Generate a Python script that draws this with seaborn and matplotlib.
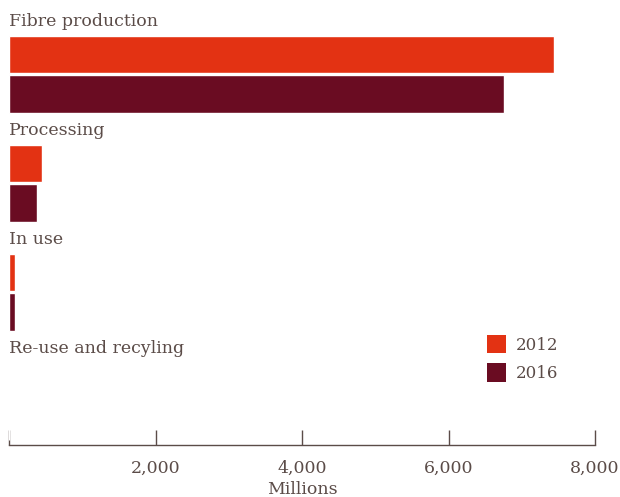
import matplotlib
matplotlib.use("Agg")
import matplotlib.pyplot as plt
import pandas as pd
import seaborn as sns
from matplotlib.patches import Patch

stages = ['Fibre production', 'Processing', 'In use', 'Re-use and recyling']
years = ['2012', '2016']
values_2012 = [7440, 450, 80, 0]
values_2016 = [6760, 380, 80, 0]
x_ticks = [0, 2000, 4000, 6000, 8000]
x_tick_labels = ['', '2,000', '4,000', '6,000', '8,000']

colours = {'2012': '#e33213', '2016': '#6a0c22'}
text_col = '#5b4c48'

df = pd.DataFrame({
    'stage': stages * 2,
    'year': ['2012'] * len(stages) + ['2016'] * len(stages),
    'value': values_2012 + values_2016,
})

sns.set_theme(style='white')
plt.rcParams['font.family'] = ['DejaVu Serif']

fig = plt.figure(figsize=(6.2, 4.97), dpi=100)
ax = fig.add_axes([9 / 620, 52 / 497, 586 / 620, 445 / 497])

sns.barplot(data=df, x='value', y='stage', hue='year', order=stages,
            hue_order=years, palette=colours, orient='h', width=0.72,
            gap=0.05, saturation=1, ax=ax, legend=False)

# category names sit above their pair of bars
for i, name in enumerate(stages):
    ax.text(0, i - 0.445, name, ha='left', va='baseline', fontsize=12.5,
            color=text_col)

ax.set_xlim(0, 8000)
ax.set_ylim(3.4, -0.683)
ax.set_yticks([])
ax.set_ylabel('')
ax.set_xticks(x_ticks)
ax.set_xticklabels(x_tick_labels)
ax.set_xlabel('Millions', fontsize=12.5, color=text_col, labelpad=3)
ax.tick_params(axis='x', direction='in', length=11, width=1, color=text_col,
               labelcolor=text_col, labelsize=12.5, pad=11, bottom=True)
for side in ['top', 'right', 'left']:
    ax.spines[side].set_visible(False)
ax.spines['bottom'].set_color(text_col)
ax.spines['bottom'].set_linewidth(1)

handles = [Patch(facecolor=colours[y], edgecolor='none', label=y) for y in years]
ax.legend(handles=handles, loc='upper left', bbox_to_anchor=(0.815, 0.248),
          frameon=False, fontsize=12, handlelength=1.15, handleheight=1.35,
          labelspacing=0.58, handletextpad=0.6, borderaxespad=0, borderpad=0,
          labelcolor=text_col)

fig.savefig('out.png', dpi=100)
